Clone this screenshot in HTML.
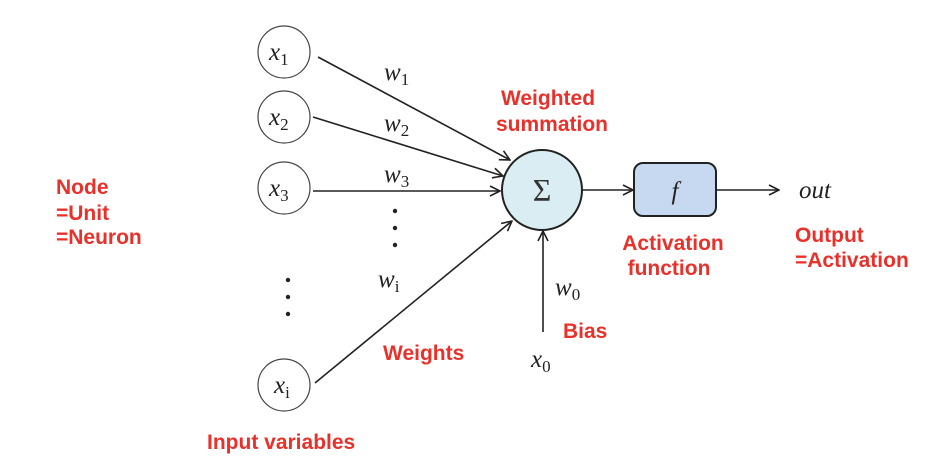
<!DOCTYPE html>
<html><head><meta charset="utf-8"><style>
html,body{margin:0;padding:0;background:#fff;width:940px;height:476px;overflow:hidden}
.r{font-family:"Liberation Sans",sans-serif;font-weight:bold;fill:#e8312a;font-size:21px}
.m{font-family:"Liberation Serif","DejaVu Serif",serif;font-style:italic;fill:#222;font-size:25px}
.s{font-family:"Liberation Serif","DejaVu Serif",serif;font-style:normal;fill:#222;font-size:17px}
</style></head><body>
<svg width="940" height="476" viewBox="0 0 940 476" xmlns="http://www.w3.org/2000/svg">
<defs><marker id="a" viewBox="0 0 12 12" refX="11" refY="6" markerWidth="12" markerHeight="12" markerUnits="userSpaceOnUse" orient="auto"><path d="M1,1 L11,6 L1,11" fill="none" stroke="#222" stroke-width="1.6"/></marker></defs>
<g fill="#fff" stroke="#444" stroke-width="1.2">
<circle cx="284" cy="52" r="26"/><circle cx="284" cy="117" r="26"/><circle cx="284" cy="188" r="26"/><circle cx="284" cy="385" r="26"/>
</g>
<g stroke="#222" stroke-width="1.6" fill="none" marker-end="url(#a)">
<line x1="318" y1="57" x2="510" y2="160"/>
<line x1="313" y1="117" x2="503" y2="176"/>
<line x1="313" y1="191" x2="500" y2="191"/>
<line x1="315" y1="383" x2="512" y2="221"/>
<line x1="543" y1="332" x2="543" y2="231"/>
<line x1="582" y1="190" x2="633" y2="190"/>
<line x1="716" y1="190" x2="779" y2="190"/>
</g>
<circle cx="542" cy="190" r="40" fill="#daedf2" stroke="#222" stroke-width="2"/>
<rect x="634" y="163" width="82" height="53" rx="9" fill="#c6d9f1" stroke="#222" stroke-width="2"/>
<g fill="#222"><circle cx="395" cy="211" r="2.2"/><circle cx="395" cy="228" r="2.2"/><circle cx="395" cy="245" r="2.2"/>
<circle cx="288" cy="280" r="2.2"/><circle cx="288" cy="297" r="2.2"/><circle cx="288" cy="314" r="2.2"/></g>
<text x="269" y="60" class="m">x<tspan class="s" dy="5">1</tspan></text>
<text x="269" y="125" class="m">x<tspan class="s" dy="5">2</tspan></text>
<text x="269" y="196" class="m">x<tspan class="s" dy="5">3</tspan></text>
<text x="274" y="393" class="m">x<tspan class="s" dy="5">i</tspan></text>
<text x="384" y="80" class="m">w<tspan class="s" dy="5">1</tspan></text>
<text x="384" y="131" class="m">w<tspan class="s" dy="5">2</tspan></text>
<text x="384" y="182" class="m">w<tspan class="s" dy="5">3</tspan></text>
<text x="378" y="287" class="m">w<tspan class="s" dy="5">i</tspan></text>
<text x="555" y="295" class="m">w<tspan class="s" dy="5">0</tspan></text>
<text x="531" y="367" class="m">x<tspan class="s" dy="5">0</tspan></text>
<text x="542" y="201" text-anchor="middle" font-family="Liberation Serif,DejaVu Serif,serif" font-size="32" fill="#333">Σ</text>
<text x="675" y="199" text-anchor="middle" class="m">f</text>
<text x="799" y="198" class="m">out</text>
<text x="548" y="105" text-anchor="middle" class="r">Weighted</text>
<text x="552" y="131" text-anchor="middle" class="r">summation</text>
<text x="56" y="194" class="r">Node</text>
<text x="56" y="220" class="r">=Unit</text>
<text x="56" y="244" class="r">=Neuron</text>
<text x="673" y="250" text-anchor="middle" class="r">Activation</text>
<text x="669" y="275" text-anchor="middle" class="r">function</text>
<text x="795" y="242" class="r">Output</text>
<text x="795" y="267" class="r">=Activation</text>
<text x="563" y="338" class="r">Bias</text>
<text x="383" y="360" class="r">Weights</text>
<text x="207" y="449" class="r">Input variables</text>
</svg>
</body></html>
